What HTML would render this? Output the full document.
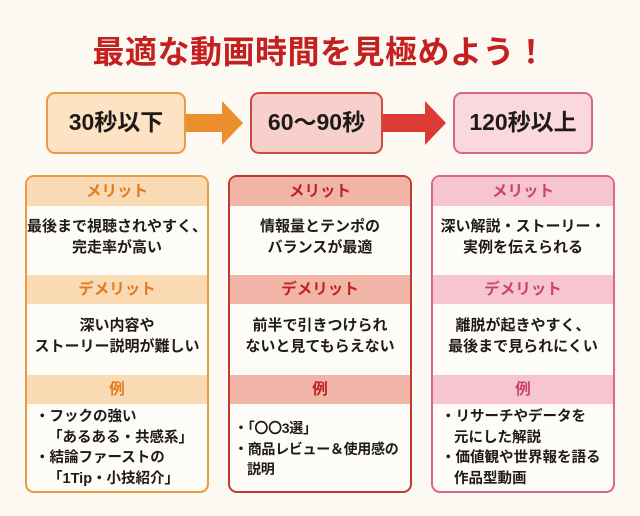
<!DOCTYPE html>
<html><head><meta charset="utf-8"><style>
*{margin:0;padding:0;box-sizing:border-box}
body{width:640px;height:516px;background:#fbf9f2;position:relative;overflow:hidden;font-family:"Liberation Sans","Noto Sans CJK JP",sans-serif;font-weight:bold;color:#1e1a18}
.title{position:absolute;left:0;top:27px;width:640px;text-align:center;font-size:32px;color:#c42020;letter-spacing:0.5px}
.tb{position:absolute;top:92px;height:62px;border:2.5px solid;border-radius:9px;text-align:center;line-height:57px;font-size:23px}
.col{position:absolute;top:175px;width:184px;height:318px;border:2px solid;border-radius:9px;overflow:hidden;background:#fefcf7}
.h{position:absolute;left:0;width:100%;height:29px;text-align:center;line-height:29px;font-size:15.5px}
.c{position:absolute;left:0;width:100%;text-align:center;font-size:15px;line-height:21px}
.e{position:absolute;left:0;width:100%;font-size:14.5px;line-height:20.5px;padding-left:8px;white-space:nowrap}
.e div{padding-left:13px;text-indent:-13px;}
</style></head><body>
<div class="title">最適な動画時間を見極めよう！</div>

<div class="tb" style="left:46px;width:140px;border-color:#e99a45;background:#fde3c3">30秒以下</div>
<div class="tb" style="left:250px;width:133px;border-color:#cc4a40;background:#f8d0cb">60〜90秒</div>
<div class="tb" style="left:453px;width:140px;border-color:#d7668a;background:#fbd7de">120秒以上</div>

<svg style="position:absolute;left:0;top:0" width="640" height="200">
<polygon points="186,114 222,114 222,101 243,123 222,145 222,132 186,132" fill="#ec8e2c"/>
<polygon points="383,114 425,114 425,101 446,123 425,145 425,132 383,132" fill="#dc3b35"/>
</svg>

<div class="col" style="left:25px;border-color:#e99a45">
<div class="h" style="top:0;background:#f9dab3;color:#e07c22">メリット</div>
<div class="c" style="top:39px">最後まで視聴されやすく、<br>完走率が高い</div>
<div class="h" style="top:98px;background:#f9dab3;color:#e07c22">デメリット</div>
<div class="c" style="top:138px">深い内容や<br>ストーリー説明が難しい</div>
<div class="h" style="top:198px;background:#f9dab3;color:#e07c22">例</div>
<div class="e" style="top:230px"><div>・フックの強い<br>「あるある・共感系」</div><div>・結論ファーストの<br>「1Tip・小技紹介」</div></div>
</div>

<div class="col" style="left:228px;border-color:#bf3a2f">
<div class="h" style="top:0;background:#f1b5a8;color:#c0221d">メリット</div>
<div class="c" style="top:39px">情報量とテンポの<br>バランスが最適</div>
<div class="h" style="top:98px;background:#f1b5a8;color:#c0221d">デメリット</div>
<div class="c" style="top:138px">前半で引きつけられ<br>ないと見てもらえない</div>
<div class="h" style="top:198px;background:#f1b5a8;color:#c0221d">例</div>
<div class="e" style="top:241px;font-size:14px;padding-left:4px;letter-spacing:-0.3px"><div>・「〇〇3選」</div><div>・商品レビュー＆使用感の<br>説明</div></div>
</div>

<div class="col" style="left:431px;border-color:#d9698c">
<div class="h" style="top:0;background:#f7c5d0;color:#c8436f">メリット</div>
<div class="c" style="top:39px">深い解説・ストーリー・<br>実例を伝えられる</div>
<div class="h" style="top:98px;background:#f7c5d0;color:#c8436f">デメリット</div>
<div class="c" style="top:138px">離脱が起きやすく、<br>最後まで見られにくい</div>
<div class="h" style="top:198px;background:#f7c5d0;color:#c8436f">例</div>
<div class="e" style="top:230px"><div>・リサーチやデータを<br>元にした解説</div><div>・価値観や世界報を語る<br>作品型動画</div></div>
</div>
</body></html>
